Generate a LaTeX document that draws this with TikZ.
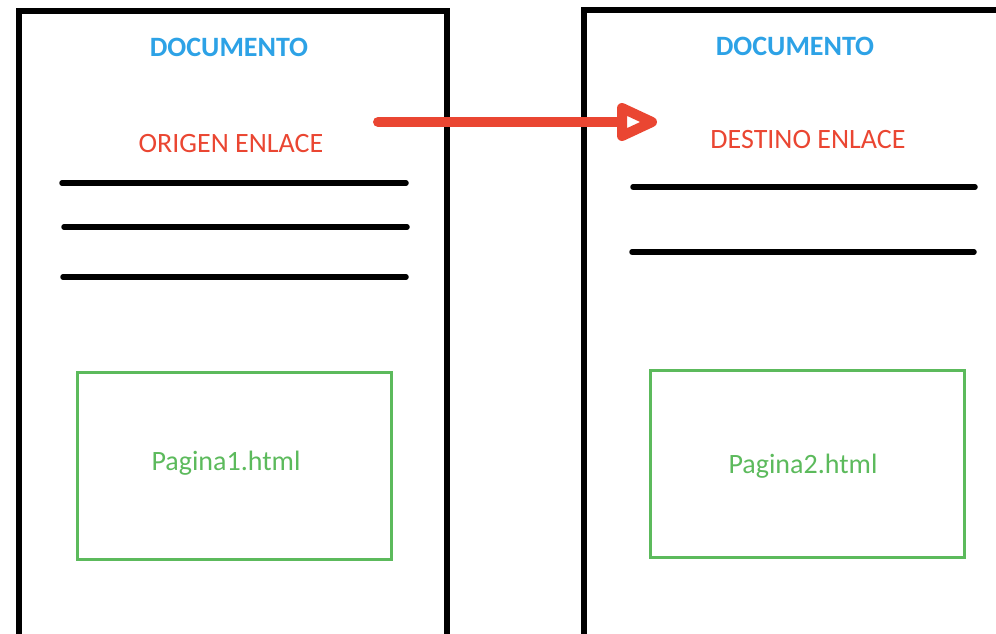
\documentclass[tikz,border=0pt]{standalone}
\usepackage{fontspec}
\setmainfont{Carlito}

\definecolor{docblue}{RGB}{45,162,230}
\definecolor{linkred}{RGB}{234,70,50}
\definecolor{pagegreen}{RGB}{92,186,92}

\tikzstyle{doc}=[draw=black, line width=6pt]
\tikzstyle{textline}=[draw=black, line width=5.5pt, line cap=round]
\tikzstyle{doctitle}=[text=docblue, font=\fontsize{28}{32}\selectfont\bfseries]
\tikzstyle{anchortext}=[text=linkred, font=\fontsize{28}{32}\selectfont]
\tikzstyle{pagebox}=[draw=pagegreen, line width=3pt, minimum width=314pt, minimum height=187pt]
\tikzstyle{pagename}=[text=pagegreen, font=\fontsize{28}{32}\selectfont]
\tikzstyle{link}=[draw=linkred, line width=10pt, line cap=round]
\tikzstyle{linkhead}=[draw=linkred, fill=white, line width=10pt, line join=round]

\begin{document}
\begin{tikzpicture}[x=1pt,y=-1pt]
\useasboundingbox (0,0) rectangle (996,634);
\clip (0,0) rectangle (996,634);

% left document
\draw[doc] (18.5,11.5) rectangle (446.5,670);
\node[doctitle] (doc1) at (229,47) {DOCUMENTO};
\node[anchortext] (origin) at (231,144) {ORIGEN ENLACE};
\draw[textline] (62,183) -- (406,183);
\draw[textline] (64,227) -- (407,227);
\draw[textline] (63,277) -- (406,277);
\node[pagebox] (box1) at (234,465.5) {};
\node[pagename] (page1) at (226,463) {Pagina1.html};

% right document
\draw[doc] (583.5,10) rectangle (1030,670);
\node[doctitle] (doc2) at (795,46) {DOCUMENTO};
\node[anchortext] (target) at (808,140) {DESTINO ENLACE};
\draw[textline] (633,187) -- (975,187);
\draw[textline] (632,252) -- (974,252);
\node[pagebox] (box2) at (807,464) {};
\node[pagename] (page2) at (803,466) {Pagina2.html};

% link
\coordinate (linkS) at (378,122);
\coordinate (linkB) at (622,122);
\coordinate (linkE) at (652,122);
\draw[link] (linkS) -- (linkB);
\draw[linkhead] (linkB) -- ++(0,-14) -- (linkE) -- ++(-30,14) -- cycle;
\end{tikzpicture}
\end{document}
